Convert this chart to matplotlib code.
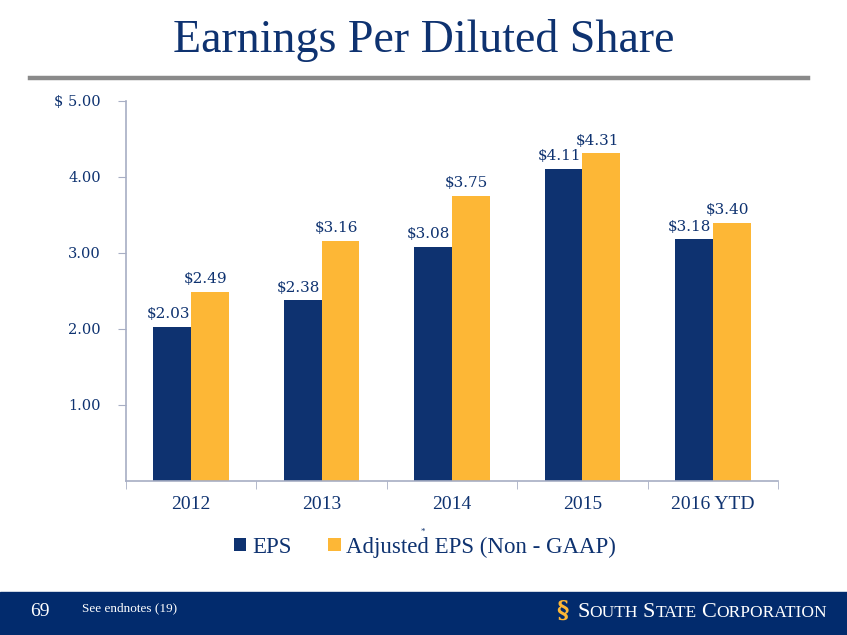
import matplotlib
matplotlib.use("Agg")
import matplotlib.pyplot as plt
import numpy as np
from matplotlib.patches import Rectangle
from matplotlib.lines import Line2D

categories = ["2012", "2013", "2014", "2015", "2016 YTD"]
eps = [2.03, 2.38, 3.08, 4.11, 3.18]
adj_eps = [2.49, 3.16, 3.75, 4.31, 3.40]
ytick_vals = [1.0, 2.0, 3.0, 4.0, 5.0]
ytick_labels = ["1.00", "2.00", "3.00", "4.00", "$ 5.00"]

NAVY = "#0e3270"
GOLD = "#fdb736"
SPINE = "#a7aec4"
SERIF = ["Liberation Serif", "DejaVu Serif"]
NUMF = ["DejaVu Serif"]

fig = plt.figure(figsize=(8.47, 6.35), dpi=100)
fig.patch.set_facecolor("white")

# Title
fig.text(0.5, 1-41/635, "Earnings Per Diluted Share", ha="center", va="center",
         fontsize=33, color=NAVY, family=SERIF)
fig.add_artist(Line2D([30/847, 808/847], [1-78/635, 1-78/635], color="#8a8a8a", lw=3.2,
                      transform=fig.transFigure))

ax = fig.add_axes([126/847, 1-481/635, (778-126)/847, (481-101)/635])
x = np.arange(len(categories))
w = 0.29
b1 = ax.bar(x - w/2, eps, w, color=NAVY, label="EPS")
b2 = ax.bar(x + w/2, adj_eps, w, color=GOLD, label="Adjusted EPS (Non - GAAP)")

for bars, vals in ((b1, eps), (b2, adj_eps)):
    for r, v in zip(bars, vals):
        ax.annotate(f"${v:.2f}", (r.get_x() + r.get_width()/2, v), xytext=(-3, 4),
                    textcoords="offset points", ha="center", va="bottom",
                    fontsize=11, color=NAVY, family=NUMF)

ax.set_xlim(-0.5, len(categories) - 0.5)
ax.set_ylim(0, 5)
ax.set_yticks(ytick_vals)
ax.set_yticklabels(ytick_labels, fontsize=10.5, color=NAVY, family=NUMF)
ax.set_xticks(x)
ax.set_xticklabels(categories, fontsize=14, color=NAVY, family=SERIF)
ax.tick_params(axis="x", length=0, pad=11)
ax.set_xticks(np.arange(-0.5, len(categories)), minor=True)
ax.tick_params(axis="x", which="minor", length=6, color=SPINE, direction="out")
ax.tick_params(axis="y", length=6, color=SPINE, direction="out", pad=12)
for s in ["top", "right"]:
    ax.spines[s].set_visible(False)
for s in ["left", "bottom"]:
    ax.spines[s].set_color(SPINE)
    ax.spines[s].set_linewidth(1.2)

leg = fig.legend(handles=[b1, b2], loc="center", bbox_to_anchor=(425/847, 1-547/635),
                 ncol=2, frameon=False, prop={"family": SERIF, "size": 16.5},
                 handlelength=0.55, handleheight=0.55, handletextpad=0.25, columnspacing=1.6)
for t in leg.get_texts():
    t.set_color(NAVY)
fig.text(423/847, 1-532/635, "*", fontsize=6.5, color=NAVY, ha="center", va="center", family=SERIF)

# Footer
fig.add_artist(Rectangle((0, 0), 1, 43/635, transform=fig.transFigure, color="#022b6d", zorder=0))
fig.text(30/847, 1-611/635, "69", fontsize=14, color="white", va="center", family=SERIF)
fig.text(82/847, 1-608/635, "See endnotes (19)", fontsize=9.5, color="white", va="center", family=SERIF)
fig.text(562/847, 1-611/635, "§", fontsize=17, color=GOLD, va="center", ha="center",
         family=["DejaVu Serif"], weight="bold")

renderer = fig.canvas.get_renderer()
pieces = [("S", 16), ("OUTH", 12.5), (" ", 12.5), ("S", 16), ("TATE", 12.5), (" ", 12.5),
          ("C", 16), ("ORPORATION", 12.5)]
xpos = 577.0
for txt, sz in pieces:
    t = fig.text(xpos/847, 1-617/635, txt, fontsize=sz, color="white", va="baseline",
                 ha="left", family=SERIF)
    if txt.strip():
        bb = t.get_window_extent(renderer)
        xpos += bb.width
    else:
        xpos += 5

fig.savefig("out.png", dpi=100)
